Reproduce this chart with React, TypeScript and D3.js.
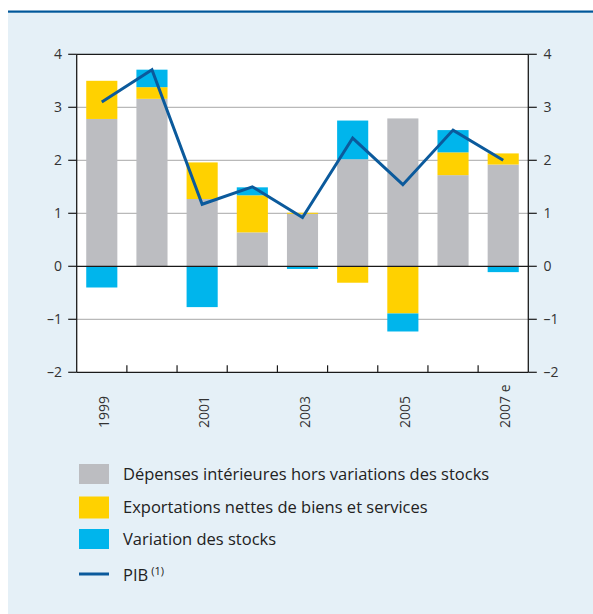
import React from "react";
import * as d3 from "d3";

const years = ["1999", "2000", "2001", "2002", "2003", "2004", "2005", "2006", "2007 e"];
const shownLabels = ["1999", "2001", "2003", "2005", "2007 e"];
const domestic = [2.78, 3.16, 1.27, 0.64, 0.99, 2.02, 2.79, 1.72, 1.92];
const netExports = [0.72, 0.22, 0.69, 0.7, 0.02, -0.31, -0.89, 0.43, 0.21];
const stocks = [-0.4, 0.33, -0.77, 0.15, -0.05, 0.73, -0.34, 0.42, -0.11];
const pib = [3.1, 3.71, 1.17, 1.5, 0.92, 2.42, 1.54, 2.57, 2.0];
const yTicks = [4, 3, 2, 1, 0, -1, -2];
const legendLabels = [
  "Dépenses intérieures hors variations des stocks",
  "Exportations nettes de biens et services",
  "Variation des stocks",
];

const W = 593;
const H = 614;
const FONT = "'Open Sans', 'Noto Sans', sans-serif";
const C_GRAY = "#bcbdc1";
const C_YEL = "#ffd100";
const C_CYAN = "#00b5ec";
const C_LINE = "#0b5a9c";
const BG = "#e5f0f7";

export default function App() {
  const left = 76.7;
  const right = 528.3;
  const top = 54.3;
  const bottom = 372.3;

  const x = d3.scaleBand<string>().domain(years).range([left, right]).paddingInner(0.38).paddingOuter(0.19);
  const band = d3.scaleBand<string>().domain(years).range([left, right]);
  const y = d3.scaleLinear().domain([-2, 4]).range([bottom, top]);

  const series = [domestic, netExports, stocks];
  const colors = [C_GRAY, C_YEL, C_CYAN];

  const rects: JSX.Element[] = [];
  years.forEach((yr, i) => {
    let pos = 0;
    let neg = 0;
    series.forEach((s, k) => {
      const v = s[i];
      let y0: number, y1: number;
      if (v >= 0) {
        y0 = pos;
        y1 = pos + v;
        pos = y1;
      } else {
        y0 = neg;
        y1 = neg + v;
        neg = y1;
      }
      const yt = y(Math.max(y0, y1));
      const yb = y(Math.min(y0, y1));
      rects.push(
        <rect key={`${i}-${k}`} x={x(yr)!} y={yt} width={x.bandwidth()} height={yb - yt} fill={colors[k]} />
      );
    });
  });

  const line = d3
    .line<number>()
    .x((_, i) => band(years[i])! + band.bandwidth() / 2)
    .y((d) => y(d));

  const boundaries = years.slice(1).map((yr) => band(yr)!);

  return (
    <svg width={W} height={H} style={{ position: "absolute", left: 0, top: 0 }} fontFamily={FONT}>
      <rect x={8} y={12} width={W - 8} height={H - 12} fill={BG} />
      <rect x={8} y={10.5} width={W - 8} height={2.2} fill="#00579a" />
      <rect x={left} y={top} width={right - left} height={bottom - top} fill="#ffffff" />
      {yTicks
        .filter((t) => t !== 0 && t !== 4 && t !== -2)
        .map((t) => (
          <line key={t} x1={left} x2={right} y1={y(t)} y2={y(t)} stroke="#b9b9b9" strokeWidth={1.2} />
        ))}
      {rects}
      <line x1={left} x2={right} y1={y(0)} y2={y(0)} stroke="#1a1a1a" strokeWidth={1.3} />
      <line x1={left} x2={right} y1={top} y2={top} stroke="#1a1a1a" strokeWidth={1.2} />
      <line x1={left} x2={right} y1={bottom} y2={bottom} stroke="#1a1a1a" strokeWidth={1.2} />
      <line x1={left} x2={left} y1={top} y2={bottom} stroke="#1a1a1a" strokeWidth={1.3} />
      <line x1={right} x2={right} y1={top} y2={bottom} stroke="#1a1a1a" strokeWidth={1.3} />
      {yTicks.map((t) => (
        <g key={t}>
          <line x1={left - 8.5} x2={left} y1={y(t)} y2={y(t)} stroke="#1a1a1a" strokeWidth={1.2} />
          <line x1={right} x2={right + 8.5} y1={y(t)} y2={y(t)} stroke="#1a1a1a" strokeWidth={1.2} />
          <text x={62} y={y(t)} dy="0.36em" textAnchor="end" fontSize={14} fill="#333">
            {t < 0 ? `–${-t}` : `${t}`}
          </text>
          <text x={543.5} y={y(t)} dy="0.36em" textAnchor="start" fontSize={14} fill="#333">
            {t < 0 ? `–${-t}` : `${t}`}
          </text>
        </g>
      ))}
      {boundaries.map((b, i) => (
        <line key={i} x1={b} x2={b} y1={bottom} y2={bottom - 7} stroke="#1a1a1a" strokeWidth={1.2} />
      ))}
      <path d={line(pib)!} fill="none" stroke={C_LINE} strokeWidth={3} strokeLinejoin="miter" />
      {shownLabels.map((lab) => {
        const cx = band(lab)! + band.bandwidth() / 2 + 2;
        return (
          <text
            key={lab}
            transform={`translate(${cx},428) rotate(-90)`}
            dy="0.36em"
            textAnchor="start"
            fontSize={14}
            fill="#333"
          >
            {lab}
          </text>
        );
      })}
      {legendLabels.map((lab, i) => {
        const ys = [464, 496.5, 529][i];
        const h = [20, 22, 20][i];
        return (
          <g key={lab}>
            <rect x={79} y={ys} width={30} height={h} fill={colors[i]} />
            <text x={123} y={ys + h / 2} dy="0.36em" fontSize={16.5} fill="#222">
              {lab}
            </text>
          </g>
        );
      })}
      <line x1={79} x2={109} y1={574} y2={574} stroke={C_LINE} strokeWidth={3} />
      <text x={123} y={575} dy="0.36em" fontSize={16.5} fill="#222">
        PIB
        <tspan dx={3} dy="-0.55em" fontSize={11}>
          (1)
        </tspan>
      </text>
    </svg>
  );
}
